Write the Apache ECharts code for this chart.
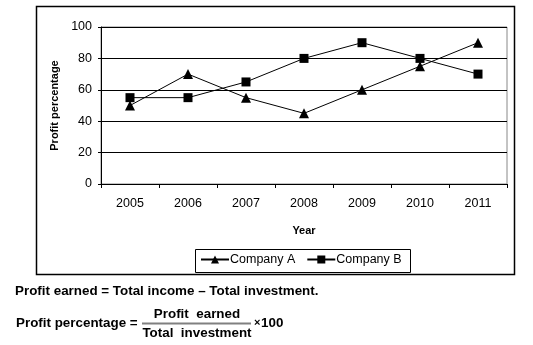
<!DOCTYPE html>
<html>
<head>
<meta charset="utf-8">
<script src="https://cdn.jsdelivr.net/npm/echarts@6/dist/echarts.min.js"></script>
<style>
html,body{margin:0;padding:0;background:#fff;}
#c{width:533px;height:345px;}
</style>
</head>
<body>
<div id="c"></div>
<script>
var years = ['2005','2006','2007','2008','2009','2010','2011'];
var companyA = [50, 70, 55, 45, 60, 75, 90];
var companyB = [55, 55, 65, 80, 90, 80, 70];
var yTicks = {min: 0, max: 100, interval: 20};

var FONT = '"Liberation Sans", Arial, sans-serif';
var chart = echarts.init(document.getElementById('c'), null, {renderer: 'canvas'});
chart.setOption({
  backgroundColor: '#fff',
  animation: false,
  textStyle: {fontFamily: FONT, color: '#000'},
  grid: {left: 101, right: 26, top: 27, bottom: 161, show: true, borderColor: '#888', borderWidth: 1},
  legend: {
    left: 195, top: 248, itemWidth: 28, itemHeight: 10, itemGap: 11,
    textStyle: {fontFamily: FONT, fontSize: 12.5, color: '#000', padding: [0,0,0,-4]},
    data: ['Company A', 'Company B']
  },
  xAxis: {
    type: 'category', data: years, boundaryGap: true,
    name: 'Year', nameLocation: 'middle', nameGap: 41,
    nameTextStyle: {fontFamily: FONT, fontSize: 11, fontWeight: 'bold', color: '#000'},
    axisLine: {lineStyle: {color: '#000', width: 1}},
    axisTick: {show: true, length: 4, lineStyle: {color: '#000'}},
    axisLabel: {fontFamily: FONT, fontSize: 12.5, color: '#000', margin: 13},
    splitLine: {show: false}
  },
  yAxis: {
    type: 'value', min: yTicks.min, max: yTicks.max, interval: yTicks.interval,
    name: 'Profit percentage', nameLocation: 'middle', nameGap: 40, nameRotate: 90,
    nameTextStyle: {fontFamily: FONT, fontSize: 11, fontWeight: 'bold', color: '#000'},
    axisLine: {show: true, lineStyle: {color: '#000', width: 1}},
    axisTick: {show: true, length: 3, lineStyle: {color: '#000'}},
    axisLabel: {fontFamily: FONT, fontSize: 12.5, color: '#000', margin: 9},
    splitLine: {show: true, lineStyle: {color: '#000', width: 1}}
  },
  series: [
    {name: 'Company B', type: 'line', data: companyB, symbol: 'rect', symbolSize: 9,
     lineStyle: {color: '#000', width: 1}, itemStyle: {color: '#000'}, z: 2},
    {name: 'Company A', type: 'line', data: companyA, symbol: 'triangle', symbolSize: 10,
     lineStyle: {color: '#000', width: 1}, itemStyle: {color: '#000'}, z: 3}
  ],
  graphic: [
    {type: 'rect', shape: {x: 36.5, y: 6.5, width: 478, height: 268}, style: {fill: 'none', stroke: '#000', lineWidth: 1.5}, silent: true, z: -1},
    {type: 'rect', shape: {x: 195.5, y: 249.5, width: 215, height: 23}, style: {fill: 'none', stroke: '#000', lineWidth: 1}, silent: true},
    {type: 'text', style: {text: 'Profit earned = Total income \u2013 Total investment.', x: 15, y: 291, font: 'bold 13.4px ' + FONT, fill: '#000', verticalAlign: 'middle'}},
    {type: 'text', style: {text: 'Profit percentage =', x: 16, y: 323, font: 'bold 13.4px ' + FONT, fill: '#000', verticalAlign: 'middle'}},
    {type: 'text', style: {text: 'Profit  earned', x: 197, y: 314, font: 'bold 13.4px ' + FONT, fill: '#000', align: 'center', verticalAlign: 'middle'}},
    {type: 'line', shape: {x1: 142, y1: 323.5, x2: 251, y2: 323.5}, style: {stroke: '#808080', lineWidth: 2}},
    {type: 'text', style: {text: 'Total  investment', x: 197, y: 333.5, font: 'bold 13.4px ' + FONT, fill: '#000', align: 'center', verticalAlign: 'middle'}},
    {type: 'text', style: {text: '\u00d7', x: 254, y: 323, font: 'bold 11px ' + FONT, fill: '#000', verticalAlign: 'middle'}},
    {type: 'text', style: {text: '100', x: 261, y: 323, font: 'bold 13.4px ' + FONT, fill: '#000', verticalAlign: 'middle'}}
  ]
});
</script>
</body>
</html>
